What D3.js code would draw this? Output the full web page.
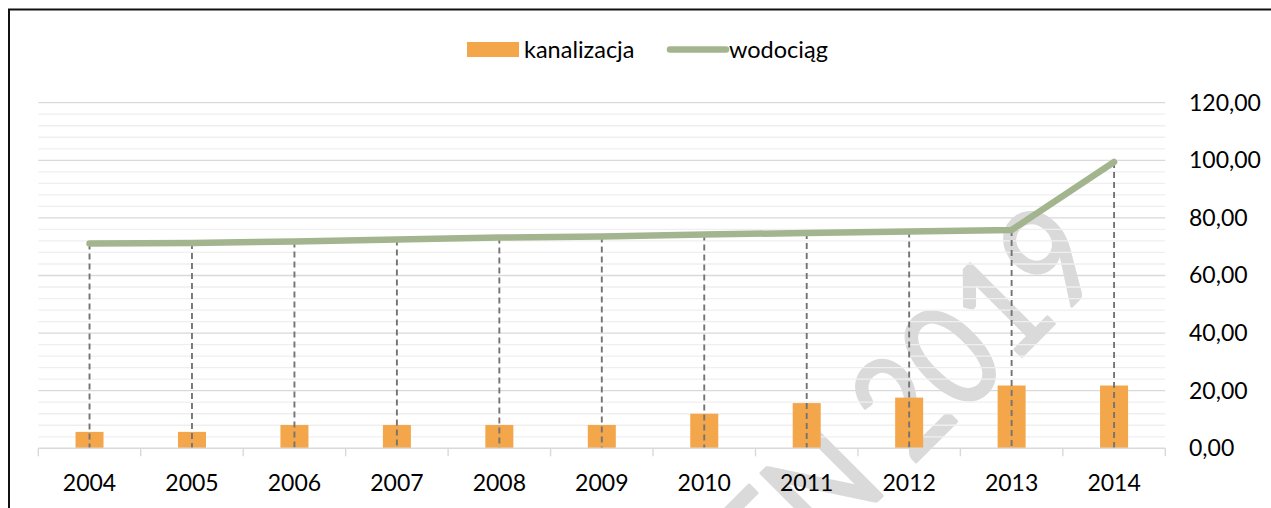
<!DOCTYPE html>
<html>
<head>
<meta charset="utf-8">
<script src="https://cdn.jsdelivr.net/npm/d3@7"></script>
<style>
  body { margin: 0; background: #fff; }
  svg { display: block; }
  text { font-family: Lato, "Open Sans", sans-serif; fill: #000; }
</style>
</head>
<body>
<svg width="1271" height="508"></svg>
<script>
// chart data
const years = ['2004', '2005', '2006', '2007', '2008', '2009', '2010', '2011', '2012', '2013', '2014'];
const kanalizacja = [5.7, 5.7, 8.1, 8.1, 8.1, 8.1, 12.0, 15.7, 17.6, 21.8, 21.8];
const wodociag = [71.1, 71.3, 71.8, 72.5, 73.2, 73.5, 74.2, 74.8, 75.3, 75.8, 99.4];
const yTicks = [0, 20, 40, 60, 80, 100, 120];
const seriesNames = ['kanalizacja', 'wodociąg'];

const svg = d3.select('svg');

const x = d3.scaleBand().domain(years).range([38.3, 1165.3]).padding(0);
const y = d3.scaleLinear().domain([0, 120]).range([448.3, 102.7]);

const pl = d3.formatLocale({ decimal: ',', thousands: ' ', grouping: [3], currency: ['', ''] });
const fmt = pl.format('.2f');

// frame around the picture
svg.append('rect')
  .attr('x', 9).attr('y', 9.5)
  .attr('width', 1400).attr('height', 700)
  .attr('fill', 'none').attr('stroke', '#111').attr('stroke-width', 2);

// watermark
svg.append('text')
  .attr('transform', 'translate(1110,268) rotate(-45) scale(0.85,1)')
  .attr('text-anchor', 'end')
  .style('font-size', '142px')
  .style('fill', '#dadada')
  .style('stroke', '#dadada')
  .style('stroke-width', 3)
  .style('stroke-linejoin', 'round')
  .text('EN 2019');

// minor and major gridlines
svg.append('g').selectAll('line')
  .data(d3.range(0, 121, 4).filter(v => v % 20 !== 0))
  .join('line')
  .attr('x1', x.range()[0]).attr('x2', x.range()[1])
  .attr('y1', d => y(d)).attr('y2', d => y(d))
  .attr('stroke', '#efefef').attr('stroke-width', 1.3);

svg.append('g').selectAll('line')
  .data(yTicks.filter(v => v > 0))
  .join('line')
  .attr('x1', x.range()[0]).attr('x2', x.range()[1])
  .attr('y1', d => y(d)).attr('y2', d => y(d))
  .attr('stroke', '#d9d9d9').attr('stroke-width', 1.3);

// bars
const bw = 28;
svg.append('g').selectAll('rect')
  .data(years)
  .join('rect')
  .attr('x', (d, i) => x(d) + x.bandwidth() / 2 - bw / 2)
  .attr('width', bw)
  .attr('y', (d, i) => y(kanalizacja[i]))
  .attr('height', (d, i) => y(0) - y(kanalizacja[i]))
  .attr('fill', '#f3a64a');

// drop lines from the line down to the axis
svg.append('g').selectAll('line')
  .data(years)
  .join('line')
  .attr('x1', d => x(d) + x.bandwidth() / 2).attr('x2', d => x(d) + x.bandwidth() / 2)
  .attr('y1', (d, i) => y(wodociag[i])).attr('y2', y(0))
  .attr('stroke', '#747474').attr('stroke-width', 1.9)
  .attr('stroke-dasharray', '6,4');

// category axis line and boundary ticks
svg.append('line')
  .attr('x1', x.range()[0]).attr('x2', x.range()[1])
  .attr('y1', y(0)).attr('y2', y(0))
  .attr('stroke', '#d9d9d9').attr('stroke-width', 1.4);

svg.append('g').selectAll('line')
  .data(years.map(d => x(d)).concat([x.range()[1]]))
  .join('line')
  .attr('x1', d => d).attr('x2', d => d)
  .attr('y1', y(0)).attr('y2', y(0) + 8)
  .attr('stroke', '#d9d9d9').attr('stroke-width', 1.4);

// wodociąg line
const line = d3.line()
  .x((d, i) => x(years[i]) + x.bandwidth() / 2)
  .y(d => y(d));

svg.append('path')
  .datum(wodociag)
  .attr('d', line)
  .attr('fill', 'none')
  .attr('stroke', '#a3b58f')
  .attr('stroke-width', 6.5)
  .attr('stroke-linejoin', 'round')
  .attr('stroke-linecap', 'round');

// x axis labels
const xAxis = svg.append('g')
  .attr('transform', `translate(0,${y(0)})`)
  .call(d3.axisBottom(x).tickSize(0).tickPadding(26));
xAxis.select('.domain').remove();
xAxis.selectAll('text')
  .style('font-size', '23px')
  .style('font-family', 'Lato, sans-serif')
  .attr('fill', '#000');

// y axis labels on the right
const yAxis = svg.append('g')
  .attr('transform', 'translate(1189,0)')
  .call(d3.axisRight(y).tickValues(yTicks).tickSize(0).tickPadding(0).tickFormat(fmt));
yAxis.select('.domain').remove();
yAxis.selectAll('text')
  .style('font-size', '23px')
  .style('font-family', 'Lato, sans-serif')
  .attr('fill', '#000');

// legend
const legend = svg.append('g');
legend.append('rect')
  .attr('x', 467).attr('y', 42)
  .attr('width', 52).attr('height', 15)
  .attr('fill', '#f3a64a');
legend.append('text')
  .attr('x', 524).attr('y', 57.5)
  .style('font-size', '23.5px')
  .text(seriesNames[0]);
legend.append('line')
  .attr('x1', 670).attr('x2', 726)
  .attr('y1', 49.5).attr('y2', 49.5)
  .attr('stroke', '#a3b58f').attr('stroke-width', 6.5)
  .attr('stroke-linecap', 'round');
legend.append('text')
  .attr('x', 729).attr('y', 57.5)
  .style('font-size', '23.5px')
  .text(seriesNames[1]);
</script>
</body>
</html>
